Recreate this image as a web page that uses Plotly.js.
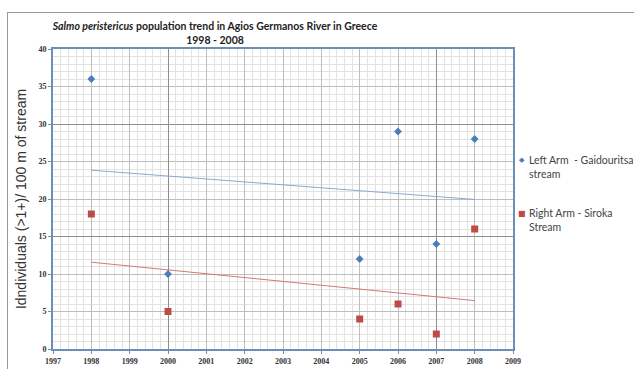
<!DOCTYPE html>
<html>
<head>
<meta charset="utf-8">
<script src="https://cdn.plot.ly/plotly-3.0.1.min.js"></script>
<style>
html,body{margin:0;padding:0;background:#fff;width:634px;height:369px;overflow:hidden;}
#frame{position:absolute;left:7px;top:12px;width:700px;height:400px;border:1.5px solid #9a9a9a;box-sizing:border-box;}
#chart{position:absolute;left:0;top:0;width:634px;height:369px;}
</style>
</head>
<body>
<div id="frame"></div>
<div id="chart"></div>
<script>
// Data
const years = [1998, 2000, 2005, 2006, 2007, 2008];
const leftArm = [36, 10, 12, 29, 14, 28];
const rightArm = [18, 5, 4, 6, 2, 16];
const seriesNames = ["Left Arm  - Gaidouritsa", "Right Arm - Siroka"];
const seriesSecondLines = ["stream", "Stream"];
const titleText = "<i>Salmo peristericus</i> population trend in Agios Germanos River in Greece<br>1998 - 2008";
const yTitle = "Idndividuals (>1+)/ 100 m of stream";

const blue = "#4a7ebb", red = "#be4b48";

function linfit(xs, ys) {
  const n = xs.length;
  const mx = xs.reduce((a,b)=>a+b,0)/n, my = ys.reduce((a,b)=>a+b,0)/n;
  let sxy=0, sxx=0;
  for (let i=0;i<n;i++){ sxy+=(xs[i]-mx)*(ys[i]-my); sxx+=(xs[i]-mx)**2; }
  const b = sxy/sxx, a = my - b*mx;
  const x0 = Math.min(...xs), x1 = Math.max(...xs);
  return {x:[x0,x1], y:[a+b*x0, a+b*x1]};
}
const tL = linfit(years, leftArm), tR = linfit(years, rightArm);

const traces = [
  {x: tL.x, y: tL.y, mode: "lines", line: {color: "#8aaad0", width: 1}, showlegend: false, hoverinfo: "skip"},
  {x: tR.x, y: tR.y, mode: "lines", line: {color: "#d07a77", width: 1}, showlegend: false, hoverinfo: "skip"},
  {x: years, y: leftArm, mode: "markers", name: seriesNames[0], marker: {symbol: "diamond", size: 6, color: blue}, showlegend: false},
  {x: years, y: rightArm, mode: "markers", name: seriesNames[1], marker: {symbol: "square", size: 7, color: red}, showlegend: false},
  {x: [], y: [], xaxis: "x2", yaxis: "y2", showlegend: false}
];

const tickFont = {family: "Liberation Serif", size: 8, color: "#333", weight: "bold"};
const legFont = {family: "Lato", size: 10.5, color: "#444"};
const px = v => (v - 53) / 460;
const py = v => (349 - v) / 300;

const layout = {
  width: 634, height: 369,
  margin: {l: 53, r: 121, t: 49, b: 20},
  paper_bgcolor: "rgba(0,0,0,0)",
  plot_bgcolor: "#fff",
  showlegend: false,
  title: {text: titleText, font: {family: "Lato", size: 10.5, color: "#222", weight: "bold"},
          x: 215/634, xref: "container", xanchor: "center", y: 1 - 30/369, yref: "container", yanchor: "middle"},
  xaxis: {range: [1997, 2009], tick0: 1997, dtick: 1, showgrid: true, gridcolor: "#bdbdbd", gridwidth: 1,
          minor: {dtick: 0.2, showgrid: true, gridcolor: "#e2e2e2", gridwidth: 1},
          showline: true, linecolor: "#6b8fb8", linewidth: 2, mirror: true,
          ticks: "outside", ticklen: 3, tickcolor: "#6b8fb8", zeroline: false, tickfont: tickFont, fixedrange: true},
  yaxis: {range: [0, 40], tick0: 0, dtick: 5, showgrid: true, gridcolor: "#bdbdbd", gridwidth: 1,
          minor: {dtick: 1, showgrid: true, gridcolor: "#e2e2e2", gridwidth: 1},
          showline: true, linecolor: "#6b8fb8", linewidth: 2, mirror: true,
          ticks: "outside", ticklen: 3, tickcolor: "#6b8fb8", zeroline: false, tickfont: tickFont,
          title: {text: yTitle, font: {family: "Liberation Sans", size: 14, color: "#333"}, standoff: 9}, fixedrange: true},
  xaxis2: {overlaying: "x", range: [1997, 2009], tick0: 2000, dtick: 7, showgrid: true, gridcolor: "#8e8e8e", gridwidth: 1,
           showticklabels: false, ticks: "", zeroline: false, showline: false},
  yaxis2: {overlaying: "y", range: [0, 40], tick0: 0, dtick: 15, showgrid: true, gridcolor: "#8e8e8e", gridwidth: 1,
           showticklabels: false, ticks: "", zeroline: false, showline: false},
  annotations: [
    {xref: "paper", yref: "paper", x: px(522), y: py(160), xanchor: "center", yanchor: "middle", showarrow: false, borderpad: 0,
     text: "◆", font: {family: "DejaVu Sans", size: 7, color: blue}},
    {xref: "paper", yref: "paper", x: px(528), y: py(153), xanchor: "left", yanchor: "top", showarrow: false, align: "left", borderpad: 0,
     text: seriesNames[0] + "<br>" + seriesSecondLines[0], font: legFont},
    {xref: "paper", yref: "paper", x: px(522), y: py(213), xanchor: "center", yanchor: "middle", showarrow: false, borderpad: 0,
     text: "■", font: {family: "DejaVu Sans", size: 8, color: red}},
    {xref: "paper", yref: "paper", x: px(528), y: py(206), xanchor: "left", yanchor: "top", showarrow: false, align: "left", borderpad: 0,
     text: seriesNames[1] + "<br>" + seriesSecondLines[1], font: legFont}
  ]
};

Plotly.newPlot("chart", traces, layout, {displayModeBar: false, staticPlot: true});
</script>
</body>
</html>
